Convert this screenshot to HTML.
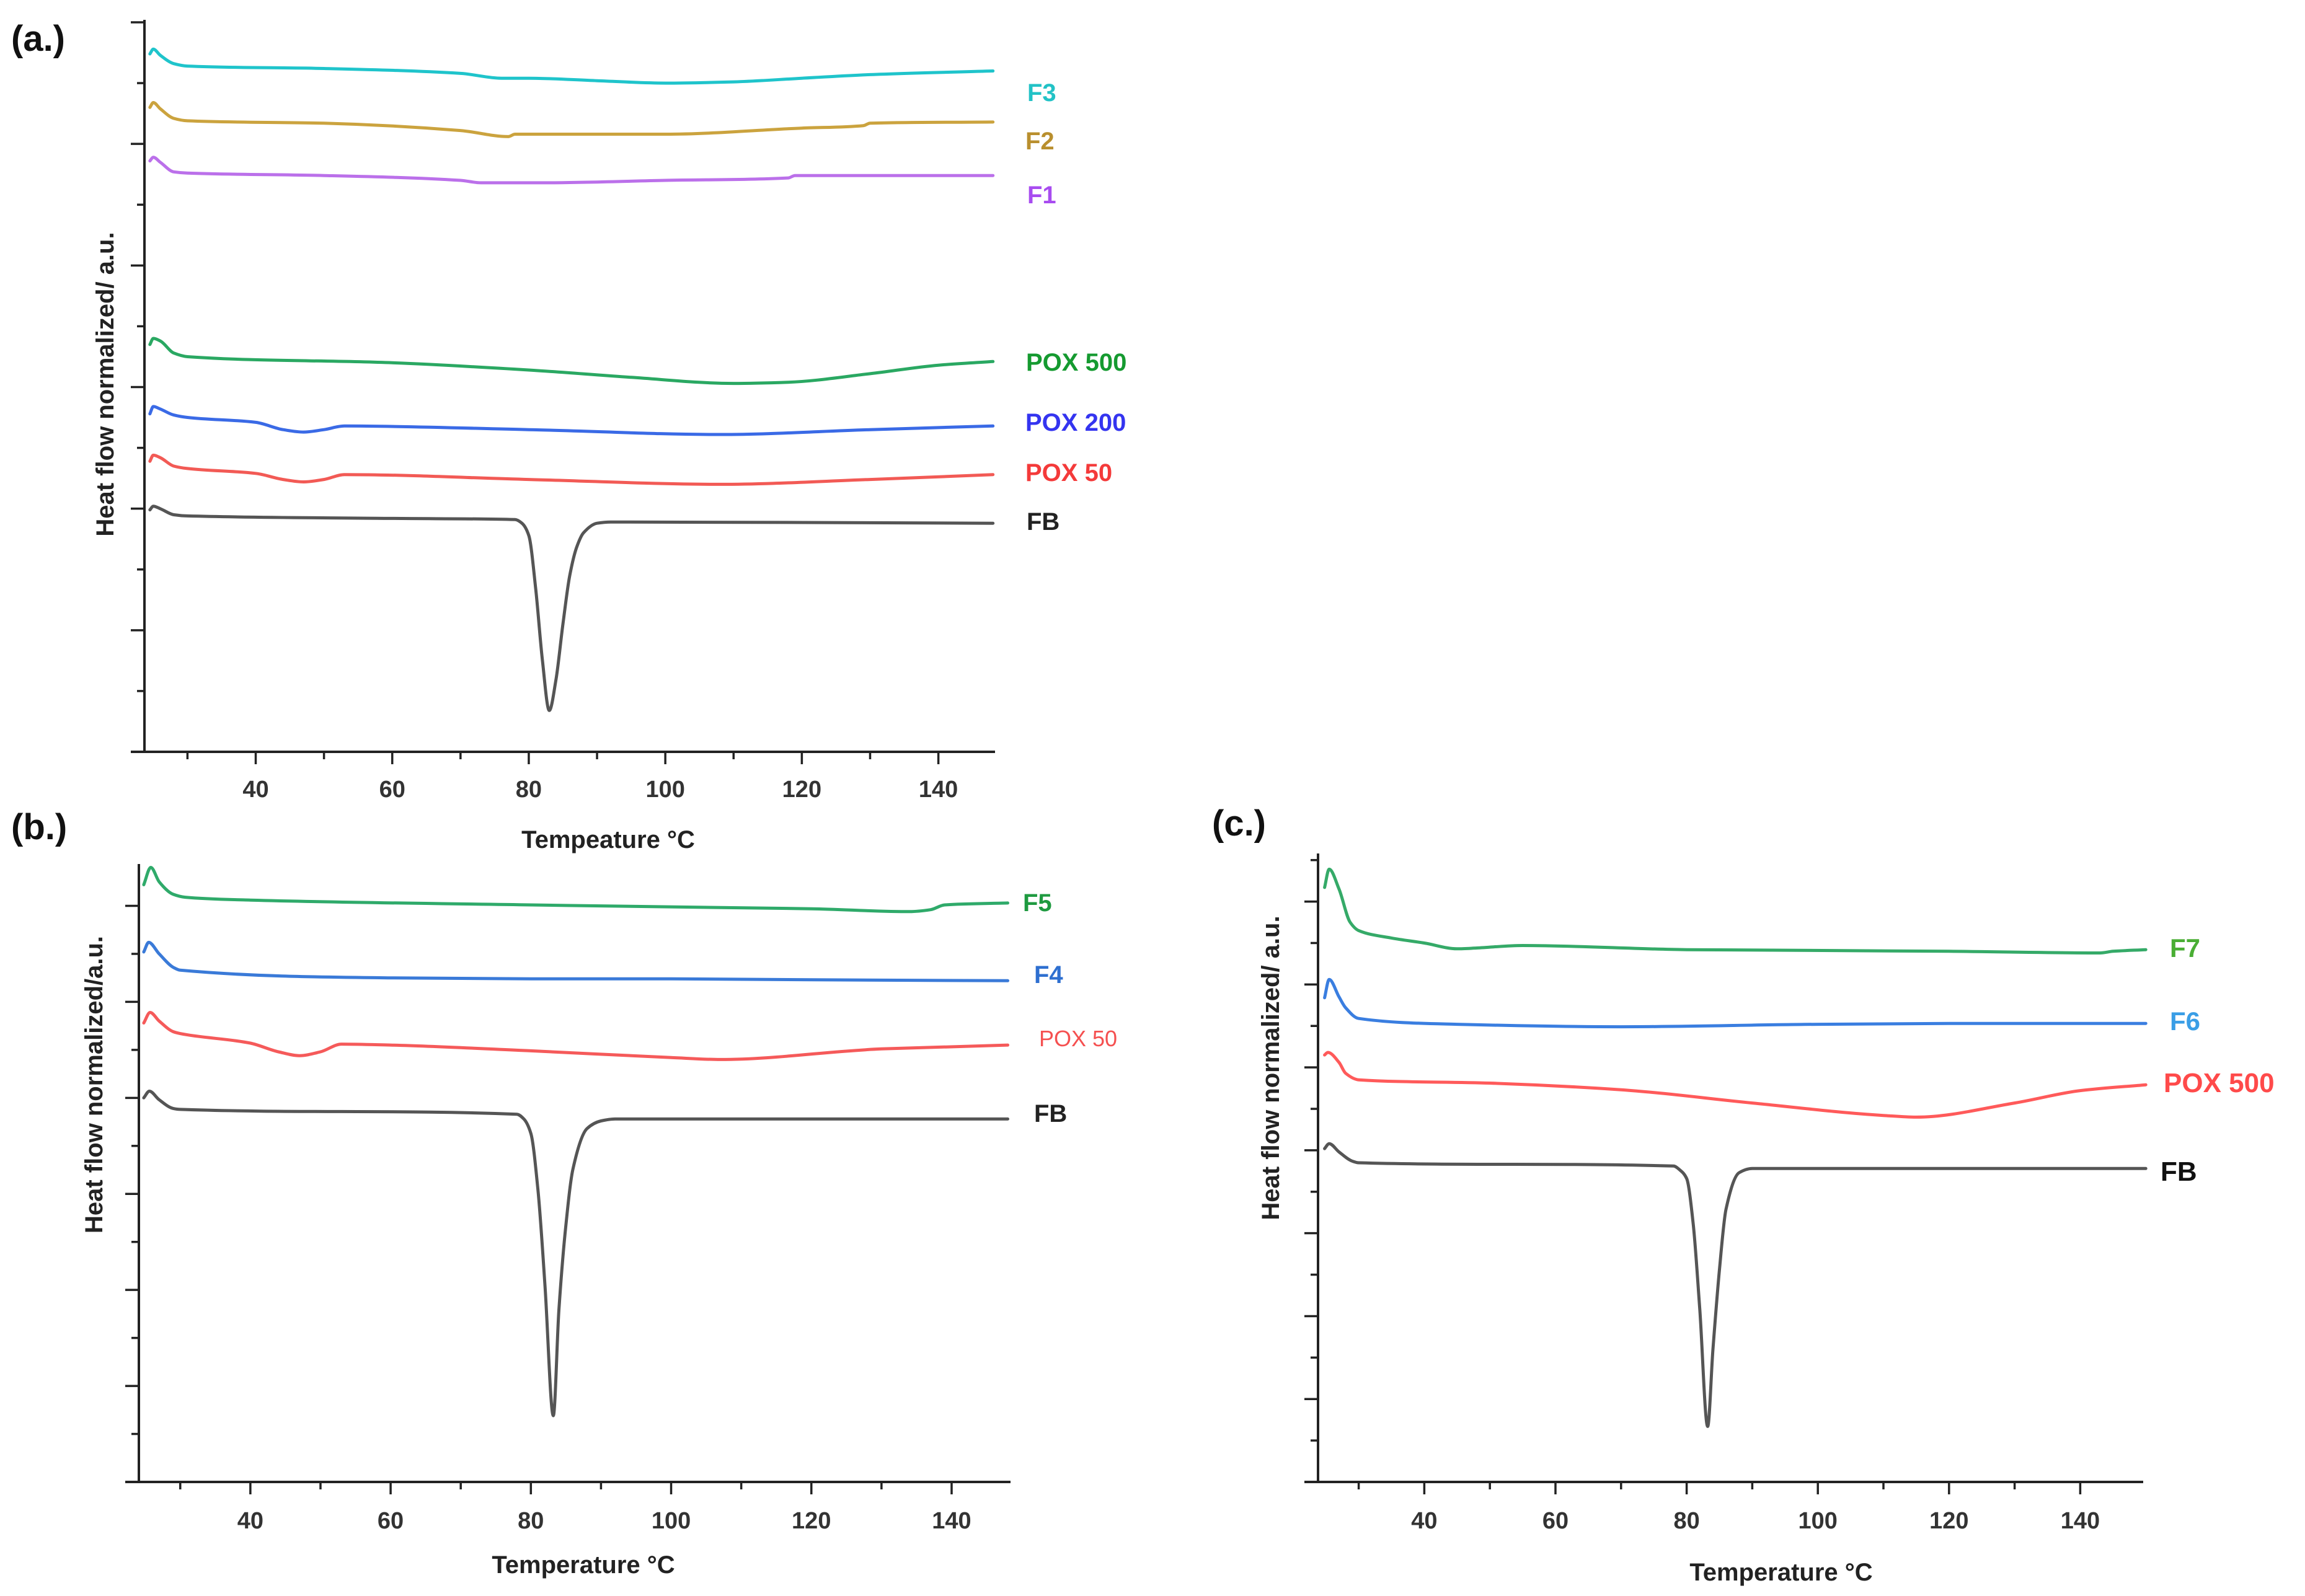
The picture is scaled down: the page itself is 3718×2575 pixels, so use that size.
<!DOCTYPE html>
<html><head><meta charset="utf-8"><style>
html,body{margin:0;padding:0;background:#fff}
svg{display:block}
text{font-family:"Liberation Sans",Arial,sans-serif}
</style></head><body>
<svg id="fig" xmlns="http://www.w3.org/2000/svg" width="3718" height="2575" viewBox="0 0 3718 2575">
<rect width="3718" height="2575" fill="#fff"/>
</svg>
<script>
// ---------- data (Temperature °C, heat flow a.u.) ----------
const xTickLabels = [40, 60, 80, 100, 120, 140];
// Panel a
const aF3 = [[24.5,57.4],[25,57.8],[26,57.3],[28,56.6],[30,56.4],[50,56.2],[70,55.8],[76,55.4],[80,55.4],[90,55.2],[100,55.0],[110,55.1],[120,55.4],[130,55.7],[148,56.0]];
const aF2 = [[24.5,53.0],[25,53.4],[26,52.9],[28,52.1],[30,51.9],[50,51.7],[70,51.1],[77,50.6],[78,50.8],[100,50.8],[120,51.3],[129,51.5],[130,51.7],[148,51.8]];
const aF1 = [[24.5,48.6],[25,48.9],[26,48.5],[28,47.7],[30,47.6],[50,47.4],[70,47.0],[73,46.8],[82,46.8],[100,47.0],[118,47.2],[119,47.4],[148,47.4]];
const aPOX500 = [[24.5,33.5],[25,34.0],[26,33.8],[28,32.8],[30,32.5],[60,32.0],[80,31.4],[95,30.8],[110,30.3],[118,30.4],[130,31.1],[140,31.8],[148,32.1]];
const aPOX200 = [[24.5,27.8],[25,28.4],[26,28.2],[28,27.7],[30,27.5],[40,27.1],[44,26.5],[47,26.3],[50,26.5],[53,26.8],[80,26.5],[108,26.1],[130,26.5],[148,26.8]];
const aPOX50 = [[24.5,23.9],[25,24.4],[26,24.2],[28,23.5],[30,23.3],[40,22.9],[44,22.4],[47,22.2],[50,22.4],[53,22.8],[80,22.4],[108,22.0],[130,22.4],[148,22.8]];
const aFB = [[24.5,19.9],[25,20.2],[26,20.0],[28,19.5],[30,19.4],[60,19.2],[78,19.1],[79,18.8],[80,17.8],[81,13.5],[82,7.5],[83,3.4],[84,6.0],[85,10.5],[86,14.5],[87,16.8],[88,18.0],[90,18.8],[92,18.9],[148,18.8]];
// Panel b
const bF5 = [[24.8,62.2],[25.8,64.0],[27,62.5],[29,61.2],[30.7,60.9],[40,60.6],[80,60.1],[120,59.7],[134,59.4],[137,59.6],[139,60.1],[148,60.3]];
const bF4 = [[24.8,55.2],[25.5,56.2],[27,55.0],[29,53.6],[30,53.3],[60,52.5],[80,52.4],[100,52.4],[120,52.3],[148,52.2]];
const bPOX50 = [[24.8,47.8],[25.7,48.9],[27,48.0],[29,46.9],[30,46.7],[40,45.7],[44,44.8],[47,44.4],[50,44.8],[53,45.6],[60,45.5],[80,44.9],[100,44.2],[107,44.0],[130,45.1],[148,45.5]];
const bFB = [[24.8,40.0],[25.6,40.7],[27,39.8],[29,38.9],[30,38.8],[78,38.3],[79,37.8],[80,36.3],[81,30.5],[82,20.6],[83.2,6.9],[84,17.9],[85,26.8],[86,32.6],[88,36.8],[90,37.6],[92,37.8],[148,37.8]];
// Panel c
const cF7 = [[24.8,71.7],[25.5,73.9],[27,71.5],[28.7,67.5],[30,66.5],[35,65.6],[40,65.0],[45,64.3],[48,64.4],[55,64.7],[80,64.2],[120,64.0],[143,63.8],[145,64.0],[150,64.2]];
const cF6 = [[24.8,58.4],[25.5,60.6],[27,58.5],[28,57.2],[30,55.9],[45,55.2],[70,54.9],[100,55.2],[120,55.3],[150,55.3]];
const cPOX500 = [[24.8,51.5],[25.3,51.8],[27,50.6],[28,49.3],[30,48.5],[50,48.1],[70,47.3],[90,45.7],[110,44.2],[115,44.0],[130,45.7],[140,47.2],[150,47.9]];
const cFB = [[24.8,40.2],[25.5,40.8],[27,39.8],[29,38.7],[30,38.5],[78,38.1],[79,37.6],[80,36.6],[81,31.1],[82,20.8],[83.2,6.7],[84,15.9],[85,25.6],[86,32.9],[88,37.3],[90,37.8],[150,37.8]];

const NS = "http://www.w3.org/2000/svg";
const svg = document.getElementById('fig');
function el(tag, attrs, parent){
  const e = document.createElementNS(NS, tag);
  for (const k in attrs) e.setAttribute(k, attrs[k]);
  (parent||svg).appendChild(e);
  return e;
}
// monotone cubic (Fritsch-Carlson) in pixel space, x increasing
function smoothPath(pts){
  const n = pts.length;
  const dx = [], m = [];
  for (let i=0;i<n-1;i++){ dx.push(pts[i+1][0]-pts[i][0]); m.push((pts[i+1][1]-pts[i][1])/dx[i]); }
  const t = new Array(n);
  t[0] = m[0]; t[n-1] = m[n-2];
  for (let i=1;i<n-1;i++){
    if (m[i-1]*m[i] <= 0) t[i] = 0;
    else { const w1 = 2*dx[i]+dx[i-1], w2 = dx[i]+2*dx[i-1]; t[i] = (w1+w2)/(w1/m[i-1]+w2/m[i]); }
  }
  let d = "M" + pts[0][0].toFixed(1) + "," + pts[0][1].toFixed(1);
  for (let i=0;i<n-1;i++){
    const h = dx[i]/3;
    d += " C" + (pts[i][0]+h).toFixed(1)+","+(pts[i][1]+t[i]*h).toFixed(1)+" "+(pts[i+1][0]-h).toFixed(1)+","+(pts[i+1][1]-t[i+1]*h).toFixed(1)+" "+pts[i+1][0].toFixed(1)+","+pts[i+1][1].toFixed(1);
  }
  return d;
}

function panel(cfg){
  const g = el('g', {});
  
  
  const X = v => cfg.x0 + (v - cfg.tmin) / (cfg.tmax - cfg.tmin) * (cfg.x1 - cfg.x0);
  const Y = v => cfg.y1 - (v - cfg.vmin) / (cfg.vmax - cfg.vmin) * (cfg.y1 - cfg.y0);
  const ya = el('line', {x1:cfg.x0, y1:cfg.y0-4, x2:cfg.x0, y2:cfg.y1, stroke:'#222', 'stroke-width':4}, g);
  
  
  const xa = el('line', {x1:cfg.x0-22, y1:cfg.y1, x2:cfg.x1, y2:cfg.y1, stroke:'#222', 'stroke-width':4}, g);
  
  
  for (let v = cfg.vmin; v <= cfg.vmax + 0.01; v += cfg.ystep/2){
    const major = Math.abs((v/cfg.ystep) - Math.round(v/cfg.ystep)) < 0.01;
    const tk = el('line', {x1:cfg.x0-(major?22:12), y1:Y(v), x2:cfg.x0, y2:Y(v), stroke:'#222', 'stroke-width':3.5}, g);
    
    
  }
  for (let t = 30; t <= cfg.tmax; t += 10){
    const major = t % 20 === 0;
    const tk = el('line', {x1:X(t), y1:cfg.y1, x2:X(t), y2:cfg.y1+(major?20:12), stroke:'#222', 'stroke-width':3.5}, g);
    
    
  }
  xTickLabels.forEach(t => {
    const tl = el('text', {x:X(t), y:cfg.tickY, 'text-anchor':'middle', 'font-size':38, 'font-weight':'bold', fill:'#333'}, g);
    tl.textContent = t;
    
    
  });
  const xt = el('text', {x:cfg.xtX, y:cfg.xtY, 'text-anchor':'middle', 'font-size':40, 'font-weight':'bold', fill:'#222'}, g);
  xt.textContent = cfg.xTitle;
  
  
  const yt = el('text', {x:0, y:0, transform:`translate(${cfg.ytX},${cfg.ytY}) rotate(-90)`, 'text-anchor':'middle', 'font-size':40, 'font-weight':'bold', fill:'#222'}, g);
  yt.textContent = cfg.yTitle;
  
  
  const pl = el('text', {x:cfg.plX, y:cfg.plY, 'font-size':58, 'font-weight':'bold', fill:'#111'}, g);
  pl.textContent = cfg.panelLabel;
  
  
  cfg.series.forEach(s => {
    const pts = s.data.map(p => [X(p[0]), Y(p[1])]);
    const path = el('path', {d:smoothPath(pts), fill:'none', stroke:s.color, 'stroke-width':5, 'stroke-linejoin':'round', 'stroke-linecap':'round'}, g);
    
    
    const lb = el('text', {x:s.lx, y:s.ly, 'font-size':s.fs||40, 'font-weight':s.normal?'normal':'bold', fill:s.lc}, g);
    lb.textContent = s.label;
    
    
  });
}

panel({name:'panel-a', x0:233, x1:1605, y0:36, y1:1213, tmin:23.7, tmax:148.3, vmin:0, vmax:60, ystep:10,
  tickY:1286, xtX:981, xtY:1368, ytX:183, ytY:620, plX:18, plY:82, panelLabel:'(a.)',
  xTitle:'Tempeature °C', yTitle:'Heat flow normalized/ a.u.',
  series:[
    {key:'f3', data:aF3, color:'#1fc4cb', label:'F3', lc:'#22c2c6', lx:1657, ly:163},
    {key:'f2', data:aF2, color:'#cba33e', label:'F2', lc:'#b98f2e', lx:1654, ly:241},
    {key:'f1', data:aF1, color:'#bb70ea', label:'F1', lc:'#a84cf0', lx:1657, ly:328},
    {key:'pox500', data:aPOX500, color:'#2aa862', label:'POX 500', lc:'#159a30', lx:1655, ly:598},
    {key:'pox200', data:aPOX200, color:'#3a6ae6', label:'POX 200', lc:'#3434f0', lx:1654, ly:695},
    {key:'pox50', data:aPOX50, color:'#f25a55', label:'POX 50', lc:'#f43a3a', lx:1654, ly:776},
    {key:'fb', data:aFB, color:'#555', label:'FB', lc:'#222', lx:1656, ly:855}
  ]});

panel({name:'panel-b', x0:224, x1:1630, y0:1398, y1:2391, tmin:24.1, tmax:148.4, vmin:0, vmax:64.1, ystep:10,
  tickY:2466, xtX:941, xtY:2538, ytX:165, ytY:1750, plX:18, plY:1354, panelLabel:'(b.)',
  xTitle:'Temperature °C', yTitle:'Heat flow normalized/a.u.',
  series:[
    {key:'f5', data:bF5, color:'#2faa6a', label:'F5', lc:'#1e9a40', lx:1650, ly:1470},
    {key:'f4', data:bF4, color:'#3a7ad8', label:'F4', lc:'#2e6fd0', lx:1668, ly:1586},
    {key:'pox50', data:bPOX50, color:'#f55a5a', label:'POX 50', lc:'#f55050', lx:1676, ly:1688, normal:true, fs:36},
    {key:'fb', data:bFB, color:'#555', label:'FB', lc:'#222', lx:1668, ly:1810}
  ]});

panel({name:'panel-c', x0:2126, x1:3457, y0:1381, y1:2391, tmin:23.8, tmax:149.6, vmin:0, vmax:75.5, ystep:10,
  tickY:2466, xtX:2873, xtY:2550, ytX:2063, ytY:1723, plX:1955, plY:1348, panelLabel:'(c.)',
  xTitle:'Temperature °C', yTitle:'Heat flow normalized/ a.u.',
  series:[
    {key:'f7', data:cF7, color:'#35aa68', label:'F7', lc:'#4aae34', lx:3500, ly:1544, fs:42},
    {key:'f6', data:cF6, color:'#3a7ee0', label:'F6', lc:'#3a9ee6', lx:3500, ly:1662, fs:42},
    {key:'pox500', data:cPOX500, color:'#ff5a5a', label:'POX 500', lc:'#ff4a4a', lx:3490, ly:1762, fs:44},
    {key:'fb', data:cFB, color:'#555', label:'FB', lc:'#111', lx:3485, ly:1905, fs:44}
  ]});
</script>
</body></html>
